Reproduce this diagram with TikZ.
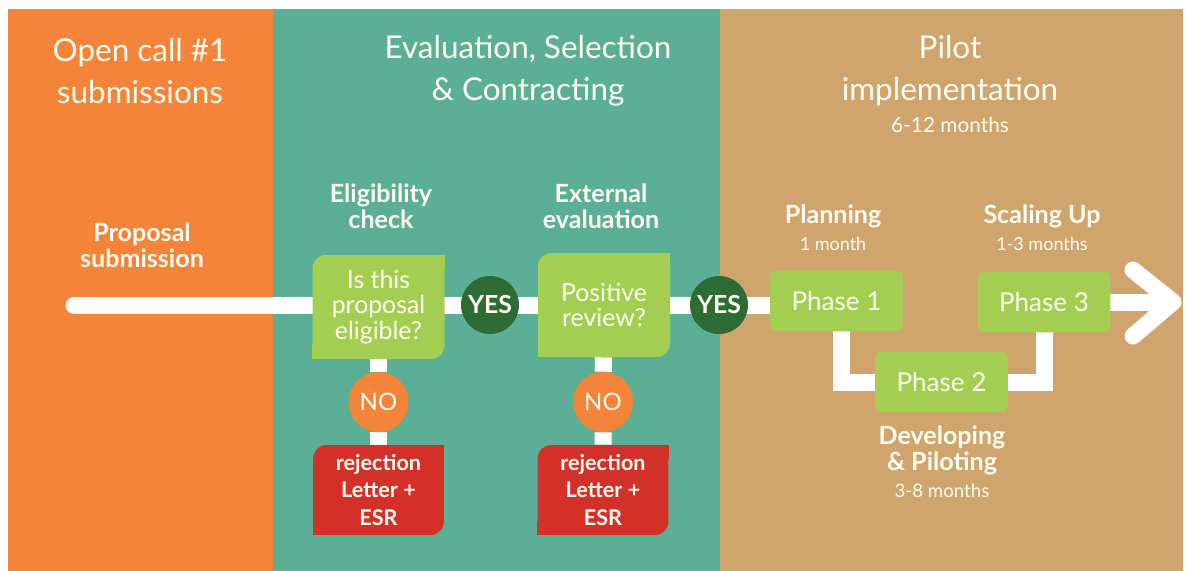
\documentclass[tikz,border=0pt]{standalone}
\usepackage{fontspec}
\setmainfont{Lato}
\definecolor{corange}{HTML}{F5843B}
\definecolor{cteal}{HTML}{5BAF96}
\definecolor{cbrown}{HTML}{CFA46D}
\definecolor{lgreen}{HTML}{A4CE52}
\definecolor{dgreen}{HTML}{2F6B35}
\definecolor{cred}{HTML}{D3302A}
\definecolor{ctext}{HTML}{FFFDF0}
\tikzset{
  title/.style={text=ctext, align=center, font=\fontsize{23.6}{31.5}\selectfont},
  sub/.style={text=ctext, align=center, font=\fontsize{13.5}{15}\selectfont},
  lbl/.style={text=ctext, align=center, font=\bfseries\fontsize{18.8}{19.5}\selectfont},
  qbox/.style={fill=lgreen, text=ctext, inner sep=0pt, rounded corners=10pt, align=center,
    minimum width=99pt, minimum height=78pt, font=\fontsize{18.6}{19}\selectfont},
  rbox/.style={fill=cred, text=ctext, inner sep=0pt, rounded corners=10pt, align=center,
    minimum width=98pt, minimum height=67.5pt, font=\bfseries\fontsize{16.2}{20.5}\selectfont},
  pbox/.style={fill=lgreen, text=ctext, inner sep=0pt, rounded corners=4pt, align=center,
    minimum width=99.5pt, minimum height=45.5pt, font=\fontsize{19.5}{20}\selectfont},
  yescirc/.style={circle, fill=dgreen, text=ctext, inner sep=0pt, minimum size=43.5pt,
    font=\bfseries\fontsize{18.6}{20}\selectfont},
  nocirc/.style={circle, fill=corange, text=ctext, inner sep=0pt, minimum size=45pt,
    font=\fontsize{18}{20}\selectfont},
  flow/.style={draw=white, line width=12.75pt},
}
\begin{document}
\begin{tikzpicture}[x=0.75pt,y=-0.75pt]
\useasboundingbox (0,0) rectangle (1186,571);
% panels
\fill[corange] (8,9) rectangle (273,571);
\fill[cteal] (273,9) rectangle (720,571);
\fill[cbrown] (720,9) rectangle (1183,571);

% titles
\node[title] (t1) at (140,71) {Open call \#1\\submissions};
\node[title] (t2) at (528,71) {Evaluation, Selection\\\& Contracting};
\node[title] (t3) at (950,71) {Pilot\\implementation};
\node[sub, font=\fontsize{15.6}{17}\selectfont] (t3s) at (950,125) {6-12 months};

% labels
\node[lbl] (lprop) at (142,245) {Proposal\\submission};
\node[lbl] (lelig) at (381,206) {Eligibility\\check};
\node[lbl] (lext) at (601,206) {External\\evaluation};
\node[lbl] (lplan) at (833,216) {Planning};
\node[sub] (lplans) at (833,244) {1 month};
\node[lbl] (lscale) at (1042,216) {Scaling Up};
\node[sub] (lscales) at (1042,244) {1-3 months};
\node[lbl] (ldev) at (942,450) {Developing\\\& Piloting};
\node[sub, font=\fontsize{14}{16}\selectfont] (ldevs) at (942,491) {3-8 months};

% coordinates
\coordinate (s) at (74,305);
\coordinate (c1) at (841,382);
\coordinate (c2) at (1044,382);
\coordinate (tip) at (1173,302);
\coordinate (aup) at (1133,270);
\coordinate (adn) at (1133,336);

% node positions (invisible placeholders, filled later on top of connectors)
\path (378.5,307) node[qbox, fill=none, text opacity=0] (e1) {Is this\\proposal\\eligible?};
\path (604,305) node[qbox, fill=none, text opacity=0] (e2) {Positive\\review?};
\path (490,305) node[yescirc, fill=none, text opacity=0] (y1) {YES};
\path (719,305) node[yescirc, fill=none, text opacity=0] (y2) {YES};
\path (836.5,301) node[pbox, fill=none, text opacity=0] (p1) {Phase 1};
\path (1044,302) node[pbox, fill=none, text opacity=0] (p3) {Phase 3};
\path (941.5,382) node[pbox, fill=none, text opacity=0] (p2) {Phase 2};
\path (378.5,402) node[nocirc, fill=none, text opacity=0] (n1) {NO};
\path (603,402) node[nocirc, fill=none, text opacity=0] (n2) {NO};
\path (378.5,490) node[rbox, fill=none, text opacity=0] (r1) {rejection\\Letter +\\ESR};
\path (603,490) node[rbox, fill=none, text opacity=0] (r2) {rejection\\Letter +\\ESR};

% white connectors
\draw[flow, line cap=round] (s) -- (s -| p1.center);
\draw[flow] (e1) -- (n1) -- (r1);
\draw[flow] (e2) -- (n2) -- (r2);
\draw[flow, line join=miter] (c1 |- p1.center) -- (c1) -- (c2) -- (c2 |- p3.center);
\draw[flow] (p3.center) -- (tip);
\draw[flow, line cap=round, line join=round] (aup) -- (tip) -- (adn);

% boxes drawn on top
\node[qbox] at (e1.center) {Is this\\proposal\\eligible?};
\fill[lgreen] (e1.north east) rectangle ++(-14,14);
\fill[lgreen] (e1.south west) rectangle ++(14,-14);
\node[qbox] at (e2.center) {Positive\\review?};
\fill[lgreen] (e2.north east) rectangle ++(-14,14);
\fill[lgreen] (e2.south west) rectangle ++(14,-14);
\node[yescirc] at (y1.center) {YES};
\node[yescirc] at (y2.center) {YES};
\node[nocirc] at (n1.center) {NO};
\node[nocirc] at (n2.center) {NO};
\node[rbox] at (r1.center) {rejection\\Letter +\\ESR};
\fill[cred] (r1.north east) rectangle ++(-14,14);
\fill[cred] (r1.south west) rectangle ++(14,-14);
\node[rbox] at (r2.center) {rejection\\Letter +\\ESR};
\fill[cred] (r2.north east) rectangle ++(-14,14);
\fill[cred] (r2.south west) rectangle ++(14,-14);
\node[pbox] at (p1.center) {Phase 1};
\node[pbox] at (p2.center) {Phase 2};
\node[pbox] at (p3.center) {Phase 3};
\end{tikzpicture}
\end{document}
